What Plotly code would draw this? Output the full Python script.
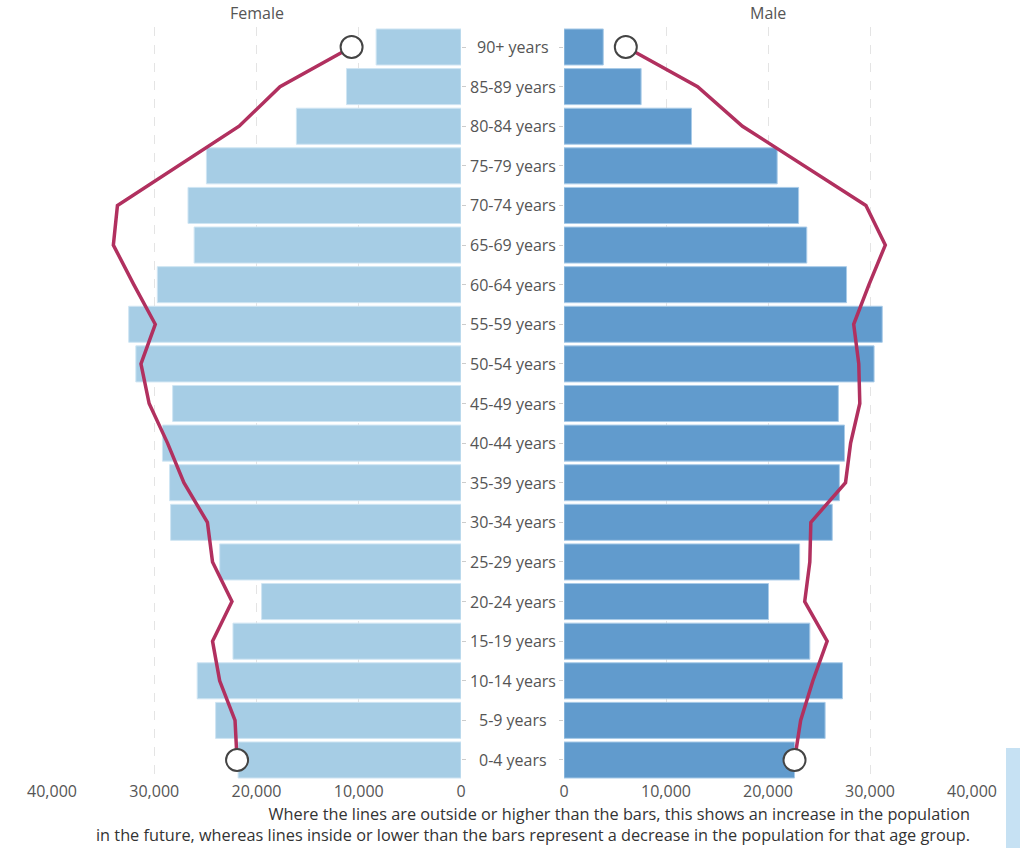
import plotly.graph_objects as go
from plotly.subplots import make_subplots

# Age groups, youngest first (plotted bottom to top)
age_groups = [
    "0-4 years", "5-9 years", "10-14 years", "15-19 years", "20-24 years",
    "25-29 years", "30-34 years", "35-39 years", "40-44 years", "45-49 years",
    "50-54 years", "55-59 years", "60-64 years", "65-69 years", "70-74 years",
    "75-79 years", "80-84 years", "85-89 years", "90+ years",
]

# Current population by age group
female_now = [21800, 24000, 25800, 22300, 19500, 23600, 28400, 28500, 29200, 28200,
              31800, 32500, 29700, 26100, 26700, 24900, 16100, 11200, 8300]
male_now = [22600, 25600, 27300, 24100, 20050, 23100, 26300, 27000, 27500, 26900,
            30400, 31200, 27700, 23800, 23000, 20900, 12500, 7560, 3850]

# Projected future population by age group
female_future = [21900, 22100, 23600, 24300, 22400, 24300, 24800, 27100, 28700, 30500,
                 31300, 29900, 32000, 34000, 33600, 27700, 21700, 17700, 10700]
male_future = [22600, 23200, 24400, 25800, 23600, 24100, 24200, 27600, 28100, 29000,
               28900, 28400, 29900, 31500, 29600, 23600, 17500, 13100, 6060]

x_ticks = [0, 10000, 20000, 30000, 40000]
x_tick_labels = ["0", "10,000", "20,000", "30,000", "40,000"]

FONT = "Open Sans"
TEXT = "#555555"
FEMALE_BAR = "#a6cde5"
MALE_BAR = "#619bcd"
LINE = "#b1305f"

fig = make_subplots(rows=1, cols=2, shared_yaxes=False, horizontal_spacing=0.0)

fig.add_trace(go.Bar(
    y=age_groups, x=female_now, orientation="h",
    marker=dict(color=FEMALE_BAR, line=dict(color="#cfe5f3", width=1)),
    hoverinfo="x+y", showlegend=False,
), row=1, col=1)
fig.add_trace(go.Bar(
    y=age_groups, x=male_now, orientation="h",
    marker=dict(color=MALE_BAR, line=dict(color="#a9cbe8", width=1)),
    hoverinfo="x+y", showlegend=False,
), row=1, col=2)

for col, future in ((1, female_future), (2, male_future)):
    fig.add_trace(go.Scatter(
        y=age_groups, x=future, mode="lines",
        line=dict(color=LINE, width=3.5),
        showlegend=False, hoverinfo="x+y",
    ), row=1, col=col)
    # open circles at the youngest and oldest groups
    fig.add_trace(go.Scatter(
        y=[age_groups[0], age_groups[-1]], x=[future[0], future[-1]], mode="markers",
        marker=dict(size=22, color="white", line=dict(color="#444444", width=2)),
        showlegend=False, hoverinfo="x+y",
    ), row=1, col=col)

W, H = 1020, 848
y_top, y_bot = 27.2, 779.8
ydom = [1 - y_bot / H, 1 - y_top / H]

axis_common = dict(
    tickvals=x_ticks, ticktext=x_tick_labels,
    showgrid=True, gridcolor="#e4e4e4", griddash="dash", gridwidth=1,
    zeroline=False, showline=False, ticks="", automargin=False,
    tickfont=dict(family=FONT, size=16, color=TEXT),
)
fig.update_xaxes(range=[40000, 0], domain=[52 / W, 461 / W], row=1, col=1, **axis_common)
fig.update_xaxes(range=[0, 40000], domain=[564 / W, 972 / W], row=1, col=2, **axis_common)

yaxis_common = dict(
    categoryorder="array", categoryarray=age_groups, range=[-0.5, 18.5],
    domain=ydom, showticklabels=False, showgrid=False, zeroline=False,
    ticks="outside", ticklen=4, tickcolor="#cccccc", showline=False, automargin=False,
)
fig.update_yaxes(side="right", row=1, col=1, **yaxis_common)
fig.update_yaxes(side="left", row=1, col=2, **yaxis_common)

annotations = []
# age group labels between the two halves
for g in age_groups:
    annotations.append(dict(
        x=512.5 / W, xref="paper", y=g, yref="y", text=g, showarrow=False,
        xanchor="center", yanchor="middle",
        font=dict(family=FONT, size=16, color=TEXT),
    ))
# side headings
annotations.append(dict(x=0.5, xref="x domain", y=1 - 13 / H, yref="paper",
                        text="Female", showarrow=False, xanchor="center", yanchor="middle",
                        font=dict(family=FONT, size=16, color=TEXT)))
annotations.append(dict(x=0.5, xref="x2 domain", y=1 - 13 / H, yref="paper",
                        text="Male", showarrow=False, xanchor="center", yanchor="middle",
                        font=dict(family=FONT, size=16, color=TEXT)))
# explanatory note
annotations.append(dict(
    x=972 / W, xref="paper", y=1 - 801 / H, yref="paper",
    text=("Where the lines are outside or higher than the bars, this shows an increase in the population<br>"
          "in the future, whereas lines inside or lower than the bars represent a decrease in the population for that age group."),
    showarrow=False, xanchor="right", yanchor="top", align="right",
    font=dict(family=FONT, size=16.3, color="#333333"),
))

fig.update_layout(
    width=W, height=H,
    margin=dict(l=0, r=0, t=0, b=0, autoexpand=False),
    paper_bgcolor="white", plot_bgcolor="white",
    bargap=0.09,
    annotations=annotations,
    shapes=[dict(type="rect", xref="paper", yref="paper",
                 x0=1006 / W, x1=1.0, y0=0, y1=1 - 748 / H,
                 fillcolor="#c6e1f3", line=dict(width=0), layer="below")],
)

fig.write_html("out.html")
